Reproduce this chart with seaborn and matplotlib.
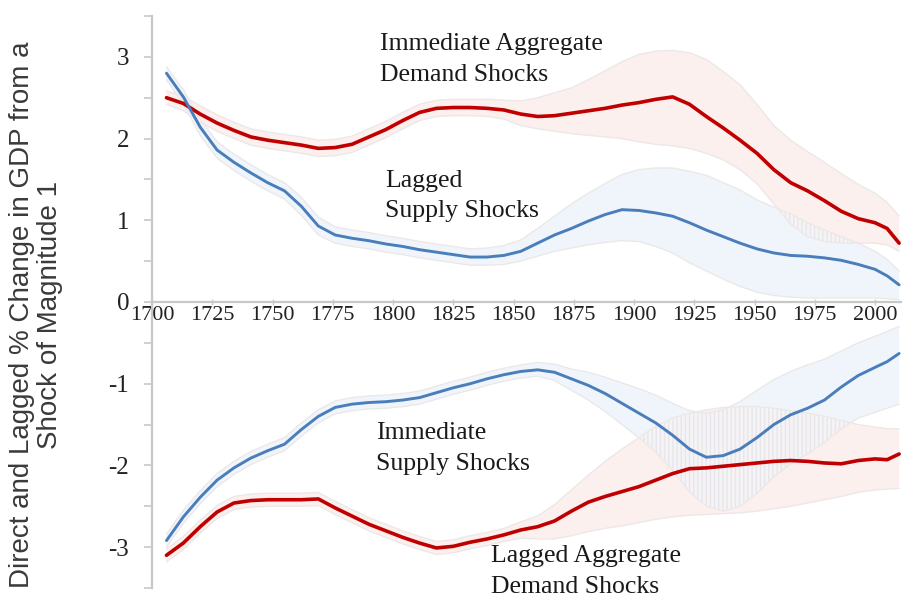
import numpy as np
import pandas as pd
import matplotlib
matplotlib.use("Agg")
import matplotlib.pyplot as plt
import seaborn as sns
from matplotlib.ticker import MultipleLocator

# ---- data: estimated effect (% change in GDP) and its band, by year ----
years = [1706, 1713, 1720, 1727, 1734, 1741, 1748, 1755, 1762, 1769,
         1776, 1783, 1790, 1797, 1804, 1811, 1818, 1825, 1832, 1839,
         1846, 1853, 1860, 1867, 1874, 1881, 1888, 1895, 1902, 1909,
         1916, 1923, 1930, 1937, 1944, 1951, 1958, 1965, 1972, 1979,
         1986, 1993, 2000, 2005, 2010]

imm_demand = [2.50, 2.43, 2.30, 2.19, 2.10, 2.02, 1.98, 1.95, 1.92, 1.88,
              1.89, 1.93, 2.02, 2.11, 2.22, 2.32, 2.37, 2.38, 2.38, 2.37,
              2.35, 2.30, 2.27, 2.28, 2.31, 2.34, 2.37, 2.41, 2.44, 2.48,
              2.51, 2.42, 2.27, 2.13, 1.98, 1.82, 1.62, 1.46, 1.36, 1.24,
              1.11, 1.02, 0.97, 0.90, 0.72]
imm_demand_hi = [2.58, 2.52, 2.40, 2.29, 2.20, 2.12, 2.08, 2.05, 2.02, 1.98,
                 1.99, 2.03, 2.12, 2.21, 2.32, 2.42, 2.47, 2.48, 2.48, 2.48,
                 2.47, 2.46, 2.50, 2.56, 2.62, 2.72, 2.83, 2.94, 3.03, 3.07,
                 3.08, 3.05, 2.97, 2.82, 2.66, 2.42, 2.16, 1.98, 1.84, 1.71,
                 1.57, 1.44, 1.33, 1.22, 1.05]
imm_demand_lo = [2.42, 2.34, 2.20, 2.09, 2.00, 1.92, 1.88, 1.85, 1.82, 1.78,
                 1.79, 1.83, 1.92, 2.01, 2.12, 2.22, 2.27, 2.28, 2.28, 2.27,
                 2.24, 2.16, 2.12, 2.09, 2.06, 2.04, 2.02, 2.00, 1.96, 1.93,
                 1.91, 1.88, 1.82, 1.74, 1.62, 1.45, 1.20, 0.95, 0.80, 0.74,
                 0.72, 0.72, 0.72, 0.70, 0.62]

lag_supply = [2.80, 2.51, 2.14, 1.86, 1.71, 1.58, 1.46, 1.36, 1.17, 0.93,
              0.82, 0.78, 0.75, 0.71, 0.68, 0.64, 0.61, 0.58, 0.55, 0.55,
              0.57, 0.62, 0.72, 0.82, 0.90, 0.99, 1.07, 1.13, 1.12, 1.09,
              1.05, 0.97, 0.88, 0.80, 0.72, 0.65, 0.60, 0.57, 0.56, 0.54,
              0.51, 0.46, 0.40, 0.32, 0.21]
lag_supply_hi = [2.88, 2.60, 2.24, 1.96, 1.81, 1.68, 1.56, 1.46, 1.28, 1.04,
                 0.92, 0.88, 0.85, 0.81, 0.78, 0.74, 0.71, 0.68, 0.65, 0.66,
                 0.69, 0.76, 0.90, 1.05, 1.20, 1.33, 1.45, 1.56, 1.62, 1.64,
                 1.64, 1.60, 1.55, 1.46, 1.37, 1.25, 1.16, 1.08, 0.97, 0.88,
                 0.80, 0.72, 0.62, 0.52, 0.38]
lag_supply_lo = [2.72, 2.42, 2.04, 1.76, 1.61, 1.48, 1.36, 1.26, 1.06, 0.82,
                 0.72, 0.68, 0.65, 0.61, 0.58, 0.54, 0.51, 0.48, 0.45, 0.45,
                 0.46, 0.50, 0.56, 0.62, 0.66, 0.70, 0.73, 0.75, 0.74, 0.68,
                 0.60, 0.48, 0.38, 0.28, 0.19, 0.12, 0.08, 0.06, 0.05, 0.05,
                 0.05, 0.05, 0.05, 0.04, 0.03]

imm_supply = [-2.92, -2.63, -2.39, -2.18, -2.03, -1.91, -1.82, -1.74, -1.56, -1.40,
              -1.29, -1.25, -1.23, -1.22, -1.20, -1.17, -1.11, -1.05, -1.00, -0.94,
              -0.89, -0.85, -0.83, -0.86, -0.94, -1.02, -1.12, -1.24, -1.36, -1.48,
              -1.63, -1.80, -1.90, -1.88, -1.80, -1.66, -1.50, -1.38, -1.30, -1.20,
              -1.04, -0.90, -0.80, -0.73, -0.63]
imm_supply_hi = [-2.84, -2.55, -2.31, -2.10, -1.95, -1.83, -1.74, -1.66, -1.48, -1.32,
                 -1.21, -1.17, -1.15, -1.14, -1.12, -1.09, -1.03, -0.97, -0.92, -0.86,
                 -0.81, -0.77, -0.74, -0.76, -0.82, -0.86, -0.92, -0.99, -1.06, -1.14,
                 -1.24, -1.33, -1.36, -1.32, -1.22, -1.08, -0.95, -0.85, -0.77, -0.70,
                 -0.60, -0.50, -0.42, -0.36, -0.30]
imm_supply_lo = [-3.00, -2.71, -2.47, -2.26, -2.11, -1.99, -1.90, -1.82, -1.64, -1.48,
                 -1.37, -1.33, -1.31, -1.30, -1.28, -1.25, -1.19, -1.13, -1.08, -1.02,
                 -0.97, -0.93, -0.91, -0.96, -1.08, -1.20, -1.34, -1.50, -1.66, -1.84,
                 -2.06, -2.32, -2.50, -2.56, -2.50, -2.34, -2.14, -1.98, -1.86, -1.72,
                 -1.55, -1.42, -1.35, -1.30, -1.25]

lag_demand = [-3.10, -2.95, -2.75, -2.57, -2.46, -2.43, -2.42, -2.42, -2.42, -2.41,
              -2.52, -2.62, -2.72, -2.80, -2.88, -2.95, -3.01, -2.99, -2.94, -2.90,
              -2.85, -2.79, -2.75, -2.68, -2.56, -2.45, -2.38, -2.32, -2.26, -2.18,
              -2.10, -2.04, -2.03, -2.01, -1.99, -1.97, -1.95, -1.94, -1.95, -1.97,
              -1.98, -1.94, -1.92, -1.93, -1.86]
lag_demand_hi = [-3.02, -2.87, -2.67, -2.49, -2.38, -2.35, -2.34, -2.34, -2.34, -2.33,
                 -2.44, -2.54, -2.64, -2.72, -2.80, -2.87, -2.93, -2.91, -2.86, -2.82,
                 -2.77, -2.69, -2.62, -2.48, -2.30, -2.12, -1.95, -1.80, -1.66, -1.52,
                 -1.42, -1.36, -1.32, -1.29, -1.28, -1.28, -1.30, -1.33, -1.36, -1.40,
                 -1.45, -1.50, -1.53, -1.55, -1.55]
lag_demand_lo = [-3.18, -3.03, -2.83, -2.65, -2.54, -2.51, -2.50, -2.50, -2.50, -2.49,
                 -2.60, -2.70, -2.80, -2.88, -2.96, -3.03, -3.09, -3.07, -3.02, -2.98,
                 -2.93, -2.89, -2.90, -2.90, -2.86, -2.81, -2.77, -2.74, -2.70, -2.66,
                 -2.63, -2.61, -2.60, -2.59, -2.58, -2.56, -2.53, -2.50, -2.46, -2.42,
                 -2.38, -2.33, -2.30, -2.29, -2.28]

x_ticks = [1700, 1725, 1750, 1775, 1800, 1825, 1850, 1875, 1900, 1925, 1950, 1975, 2000]
y_ticks = [-3, -2, -1, 0, 1, 2, 3]

RED = "#C00000"
BLUE = "#4A7EBB"

sns.set_style("white")
plt.rcParams["font.family"] = ["Liberation Serif", "DejaVu Serif"]
plt.rcParams["axes.unicode_minus"] = False

fig = plt.figure(figsize=(9.03, 5.98), dpi=100)
ax = fig.add_axes([152 / 903, 10 / 598, 751 / 903, 572 / 598])

yr = np.array(years, dtype=float)
series = [
    ("Immediate Aggregate Demand", imm_demand, imm_demand_lo, imm_demand_hi, RED, "#FCF0EE", 2.6),
    ("Lagged Supply", lag_supply, lag_supply_lo, lag_supply_hi, BLUE, "#F0F5FB", 2.1),
    ("Immediate Supply", imm_supply, imm_supply_lo, imm_supply_hi, BLUE, "#F0F5FB", 2.1),
    ("Lagged Aggregate Demand", lag_demand, lag_demand_lo, lag_demand_hi, RED, "#FCF0EE", 2.6),
]

# confidence bands
for name, mid, lo, hi, col, fill, lw in series:
    ax.fill_between(yr, lo, hi, facecolor=fill, edgecolor="none", zorder=1)
    ax.plot(yr, lo, color="#ECE8E8", lw=1.0, zorder=1.5)
    ax.plot(yr, hi, color="#ECE8E8", lw=1.0, zorder=1.5)

# hatched region where a red and a blue band overlap
for a, b in [(0, 1), (2, 3)]:
    lo_a, hi_a = np.array(series[a][2]), np.array(series[a][3])
    lo_b, hi_b = np.array(series[b][2]), np.array(series[b][3])
    ov_lo = np.maximum(lo_a, lo_b)
    ov_hi = np.minimum(hi_a, hi_b)
    ax.fill_between(yr, ov_lo, ov_hi, where=ov_hi > ov_lo, interpolate=True,
                    facecolor="#F6F3F5", edgecolor="#E6E6EC", hatch="||||",
                    linewidth=0, zorder=1.2)

# estimate lines
for name, mid, lo, hi, col, fill, lw in series:
    df = pd.DataFrame({"year": years, "value": mid})
    sns.lineplot(data=df, x="year", y="value", color=col, linewidth=lw, ax=ax, zorder=3)

ax.set_xlim(1700, 2011.6)
ax.set_ylim(-3.5, 3.5)
ax.set_xlabel("")
ax.set_ylabel("")

ax.set_xticks(x_ticks)
ax.set_yticks(y_ticks)
ax.yaxis.set_minor_locator(MultipleLocator(0.5))

ax.spines["top"].set_visible(False)
ax.spines["right"].set_visible(False)
ax.spines["bottom"].set_position(("data", 0))
for s in ("left", "bottom"):
    ax.spines[s].set_color("#C8C8C8")
    ax.spines[s].set_linewidth(1.6)
    ax.spines[s].set_zorder(2)

ax.tick_params(axis="y", which="both", direction="out", length=6, width=1.2,
               color="#C8C8C8", labelsize=18, pad=10.5, left=True, labelcolor="#222222")
ax.tick_params(axis="x", which="major", direction="inout", length=5, width=1.0,
               color="#C8C8C8", labelsize=16, pad=0.5, bottom=True, labelcolor="#222222")

# series labels
txt = dict(fontsize=18.5, color="#1a1a1a", ha="left", va="center", linespacing=1.5)
ax.text(1794.6, 2.97, "Immediate Aggregate\nDemand Shocks", **txt)
ax.text(1796.7, 1.30, "Lagged\nSupply Shocks", **txt)
ax.text(1793.0, -1.79, "Immediate\nSupply Shocks", **txt)
ax.text(1840.7, -3.30, "Lagged Aggregate\nDemand Shocks", **txt)

fig.text(36 / 903, 1 - 315 / 598,
         "Direct and Lagged % Change in GDP from a\nShock of Magnitude 1",
         rotation=90, ha="center", va="center", multialignment="center",
         fontsize=20, family=["Liberation Sans", "DejaVu Sans"], color="#3a3a3a",
         linespacing=1.1)

fig.savefig("out.png", dpi=100)
